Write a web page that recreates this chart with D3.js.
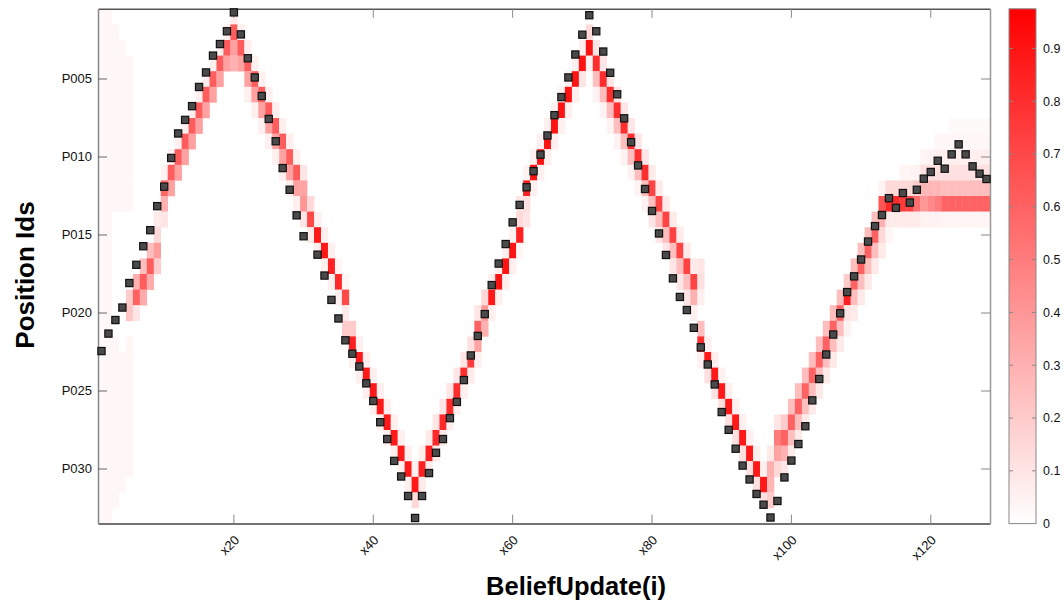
<!DOCTYPE html>
<html>
<head>
<meta charset="utf-8">
<script src="https://cdn.jsdelivr.net/npm/d3@7"></script>
<style>
  body { margin: 0; background: #fff; }
  svg { display: block; font-family: "Liberation Sans", Arial, sans-serif; }
</style>
</head>
<body>
<div id="chart"></div>
<script>
// step labels x1..x128, position ids P001..P033
var steps = d3.range(1, 129).map(function(i) { return "x" + i; });
var positions = d3.range(1, 34).map(function(i) { return "P" + d3.format("03d")(i); });

var xTickLabels = ["x20", "x40", "x60", "x80", "x100", "x120"];
var yTickLabels = ["P005", "P010", "P015", "P020", "P025", "P030"];
var colorTicks = [0, 0.1, 0.2, 0.3, 0.4, 0.5, 0.6, 0.7, 0.8, 0.9];
var colorMax = 0.975;

// true position per step (black squares), in position units (1 = P001)
var truePos = [
  22.44, 21.32, 20.45, 19.65, 18.08, 16.91, 15.72, 14.69, 13.15, 11.90,
  10.06, 8.49, 7.62, 6.74, 5.51, 4.58, 3.50, 2.76, 1.94, 0.73,
  2.14, 3.67, 4.90, 6.09, 7.56, 8.99, 10.71, 12.10, 13.74, 15.08,
  null, 16.26, 17.60, 19.16, 20.35, 21.75, 22.61, 23.43, 24.51, 25.64,
  27.00, 28.08, 29.48, 30.48, 31.73, 33.14, 31.73, 30.26, 28.96, 28.08,
  26.74, 25.70, 24.30, 22.72, 21.47, 20.07, 18.21, 16.83, 15.58, 14.19,
  13.07, 11.94, 10.91, 9.85, 8.62, 7.32, 6.16, 4.90, 3.43, 2.16,
  0.91, 1.94, 3.24, 4.60, 5.98, 7.52, 9.05, 10.54, 12.05, 13.46,
  14.90, 16.28, 17.78, 18.97, 19.81, 20.95, 22.20, 23.30, 24.58, 26.35,
  27.49, 28.70, 29.78, 30.67, 31.60, 32.29, 33.11, 32.05, 30.54, 29.46,
  28.40, 27.26, 25.60, 24.23, 22.66, 21.38, 20.02, 18.66, 17.65, 16.57,
  15.42, 14.43, 13.72, 12.64, 13.26, 12.31, 12.92, 12.10, 11.39, 10.96,
  10.24, 10.75, 9.83, 9.19, 9.83, 10.60, 11.07, 11.41
];

// early flat belief: [step, fromRow, toRow, value]
var prior = [
  [1, 1, 33, 0.025], [2, 1, 33, 0.03],
  [3, 2, 13, 0.03], [3, 22, 32, 0.03],
  [4, 3, 13, 0.03], [4, 23, 31, 0.03],
  [5, 4, 13, 0.03], [5, 23, 30, 0.03]
];

// belief per step: [firstRow, values for consecutive rows...]
var belief = [
  null, null, null, null,
  [19, .2, .22, 0, .04],
  [18, .3, .6, .1],
  [17, .25, .62, .32],
  [16, .25, .62, .32],
  [14, .08, .15, .38, .2],
  [11, .05, .58, .3, .1],
  [10, .06, .62, .36],
  [9, .06, .62, .36],
  [8, .06, .62, .36],
  [7, .06, .62, .36],
  [6, .06, .62, .36],
  [5, .06, .62, .36],
  [4, .06, .62, .36],
  [3, .06, .62, .36],
  [2, .06, .62, .36],
  [1, .08, .62, .36, .3],
  [2, .06, .62, .36],
  [3, .06, .62, .36, .06],
  [4, .06, .62, .36, .06],
  [5, .06, .62, .36, .06],
  [6, .06, .62, .36, .06],
  [7, .06, .62, .36, .06],
  [8, .06, .62, .36, .06],
  [9, .06, .62, .36, .06],
  [10, .06, .62, .36, .06],
  [11, .1, .35, .4, .1],
  [13, .15, .7, .08],
  [14, .06, .88, .06],
  [15, .06, .88, .06],
  [16, .06, .85, .06],
  [17, .04, .82, .06],
  [18, .04, .7, .08, .2],
  [21, .2, .85, .06],
  [22, .06, .88, .06],
  [23, .06, .88, .06],
  [24, .06, .88, .06],
  [25, .06, .88, .06],
  [26, .06, .88, .06],
  [27, .06, .88, .06],
  [28, .06, .88, .06],
  [29, .06, .88, .06],
  [30, .06, .88, .15],
  [29, .06, .85, .08],
  [28, .08, .85, .08],
  [27, .1, .82, .08],
  [26, .1, .82, .08],
  [25, .1, .82, .06],
  [24, .1, .8, .06],
  [23, .1, .8, .06],
  [22, .12, .75, .08],
  [20, .1, .6, .35, .06],
  [19, .15, .4, .3],
  [18, .06, .88, .06],
  [17, .06, .9, .06],
  [16, .06, .9, .06],
  [15, .06, .9, .06],
  [13, .1, .15, .85, .04],
  [11, .05, .85, .12, .1],
  [10, .06, .9, .06],
  [9, .06, .9, .06],
  [8, .06, .9, .06],
  [7, .06, .9, .06],
  [6, .06, .9, .06],
  [5, .06, .9, .06],
  [4, .06, .9, .06],
  [3, .06, .9, .1],
  [2, .15, .9, .06],
  [3, .1, .8, .25, .05],
  [4, .1, .8, .25, .05],
  [5, .1, .8, .25, .05],
  [6, .1, .8, .25, .05],
  [7, .1, .8, .25, .05],
  [8, .1, .8, .25, .05],
  [9, .1, .8, .25, .05],
  [10, .1, .8, .25, .05],
  [11, .08, .72, .25, .1],
  [12, .08, .72, .25, .1],
  [13, .08, .72, .25, .1],
  [14, .08, .72, .25, .1],
  [15, .08, .72, .25, .1],
  [16, .08, .72, .25, .1],
  [17, .08, .72, .3, .06],
  [17, .1, .12, .06, 0, .25, .8, .06],
  [22, .06, .88, .12],
  [23, .06, .88, .12],
  [24, .06, .88, .12],
  [25, .06, .88, .12],
  [26, .06, .88, .12],
  [27, .06, .88, .12],
  [28, .06, .88, .12],
  [29, .06, .88, .12],
  [30, .06, .88, .12],
  [29, .08, .3, .28, .2],
  [27, .1, .5, .35, .15],
  [27, .2, .6, .3, .1],
  [26, .25, .6, .25, .08],
  [25, .25, .6, .25, .08],
  [24, .25, .6, .25, .08],
  [23, .25, .6, .25, .08],
  [22, .25, .6, .25, .08],
  [21, .25, .6, .25, .08],
  [20, .25, .6, .25, .08],
  [19, .25, .6, .25, .08],
  [18, .2, .85, .1, .05],
  [17, .25, .6, .25, .08],
  [16, .25, .6, .25, .08],
  [15, .25, .6, .25, .08],
  [14, .25, .6, .25, .08],
  [12, .05, .65, .3, .15, .08],
  [12, .15, .82, .08, .04],
  [12, .15, .82, .08],
  [11, .04, .15, .75, .08],
  [11, .04, .15, .72, .08],
  [11, .05, .2, .55, .08],
  [10, .04, .12, .28, .4, .05],
  [10, .05, .12, .28, .45, .05],
  [9, .03, .06, .12, .28, .5, .05],
  [9, .03, .06, .12, .25, .6, .04],
  [8, .02, .03, .06, .12, .25, .6, .04],
  [8, .02, .03, .06, .12, .25, .6, .04],
  [8, .02, .03, .06, .12, .25, .6, .04],
  [8, .02, .03, .06, .12, .25, .6, .04],
  [8, .02, .03, .06, .12, .25, .6, .04],
  [8, .02, .03, .06, .12, .25, .6, .04]
];

var
  width = 1064,
  height = 608,
  plot = {left: 98, right: 990, top: 8.8, bottom: 523.6},
  bar = {left: 1009, right: 1036};

var svg = d3.select("#chart")
  .append("svg")
  .attr("width", width)
  .attr("height", height);

var x = d3.scaleBand().domain(steps).range([plot.left, plot.right]).padding(0);
var y = d3.scaleBand().domain(positions).range([plot.top, plot.bottom]).padding(0);
var yPos = d3.scaleLinear().domain([0.5, positions.length + 0.5]).range([plot.top, plot.bottom]);
var color = d3.scaleLinear().domain([0, colorMax]).range(["#ffffff", "#ff0000"]).clamp(true);

// build the cell list
var cells = [];
prior.forEach(function(p) {
  for (var r = p[1]; r <= p[2]; r++) cells.push({step: p[0], row: r, value: p[3]});
});
belief.forEach(function(b, i) {
  if (!b) return;
  for (var k = 1; k < b.length; k++) {
    if (b[k] > 0) cells.push({step: i + 1, row: b[0] + k - 1, value: b[k]});
  }
});

svg.append("rect")
  .attr("x", plot.left).attr("y", plot.top)
  .attr("width", plot.right - plot.left).attr("height", plot.bottom - plot.top)
  .attr("fill", "#fff");

svg.append("g").selectAll("rect")
  .data(cells)
  .enter().append("rect")
  .attr("x", function(d) { return x(steps[d.step - 1]); })
  .attr("y", function(d) { return y(positions[d.row - 1]); })
  .attr("width", x.bandwidth() + 0.3)
  .attr("height", y.bandwidth() + 0.3)
  .attr("fill", function(d) { return color(d.value); });

// axes (ticks pointing inward)
var xAxis = svg.append("g")
  .attr("transform", "translate(0," + plot.bottom + ")")
  .call(d3.axisBottom(x).tickValues(xTickLabels).tickSize(-9).tickSizeOuter(0).tickPadding(0));
xAxis.selectAll("text")
  .attr("font-size", 13)
  .attr("fill", "#111")
  .attr("text-anchor", "end")
  .attr("transform", "translate(3,14) rotate(-45)")
  .attr("dy", "0.35em")
  .attr("y", 0);
xAxis.selectAll(".tick line").attr("stroke", "#888");
xAxis.select(".domain").attr("stroke", "#444").attr("stroke-width", 1.5);

var xTop = svg.append("g")
  .attr("transform", "translate(0," + plot.top + ")")
  .call(d3.axisTop(x).tickValues(xTickLabels).tickSize(-9).tickSizeOuter(0).tickFormat(""));
xTop.selectAll(".tick line").attr("stroke", "#888");
xTop.select(".domain").attr("stroke", "#555").attr("stroke-width", 1.5);

var yAxis = svg.append("g")
  .attr("transform", "translate(" + plot.left + ",0)")
  .call(d3.axisLeft(y).tickValues(yTickLabels).tickSize(-9).tickSizeOuter(0).tickPadding(6));
yAxis.selectAll("text").attr("font-size", 13).attr("fill", "#111");
yAxis.selectAll(".tick line").attr("stroke", "#666");
yAxis.select(".domain").attr("stroke", "#888").attr("stroke-width", 1.5);

var yRight = svg.append("g")
  .attr("transform", "translate(" + plot.right + ",0)")
  .call(d3.axisRight(y).tickValues(yTickLabels).tickSize(-9).tickSizeOuter(0).tickFormat(""));
yRight.selectAll(".tick line").attr("stroke", "#888");
yRight.select(".domain").attr("stroke", "#999").attr("stroke-width", 1.5);

// true positions
svg.append("g").selectAll("rect")
  .data(truePos.map(function(v, i) { return {step: steps[i], pos: v}; })
    .filter(function(d) { return d.pos !== null; }))
  .enter().append("rect")
  .attr("x", function(d) { return x(d.step) + x.bandwidth() / 2 - 3.6; })
  .attr("y", function(d) { return yPos(d.pos) - 3.6; })
  .attr("width", 7.2)
  .attr("height", 7.2)
  .attr("fill", "#4a4a4a")
  .attr("stroke", "#111")
  .attr("stroke-width", 1.2);

// colour bar
var defs = svg.append("defs");
var grad = defs.append("linearGradient")
  .attr("id", "cbar").attr("x1", 0).attr("y1", 1).attr("x2", 0).attr("y2", 0);
grad.append("stop").attr("offset", "0%").attr("stop-color", color(0));
grad.append("stop").attr("offset", "100%").attr("stop-color", color(colorMax));

var yc = d3.scaleLinear().domain([0, colorMax]).range([plot.bottom, plot.top]);

svg.append("rect")
  .attr("x", bar.left).attr("y", plot.top)
  .attr("width", bar.right - bar.left).attr("height", plot.bottom - plot.top)
  .attr("fill", "url(#cbar)")
  .attr("stroke", "#888").attr("stroke-width", 1);

var cb = svg.append("g").selectAll("g")
  .data(colorTicks)
  .enter().append("g")
  .attr("transform", function(d) { return "translate(0," + yc(d) + ")"; });
cb.filter(function(d) { return d > 0; }).append("line")
  .attr("x1", bar.left).attr("x2", bar.left + 4).attr("stroke", "#888");
cb.filter(function(d) { return d > 0; }).append("line")
  .attr("x1", bar.right - 4).attr("x2", bar.right).attr("stroke", "#888");
cb.append("text")
  .attr("x", bar.right + 7)
  .attr("dy", "0.35em")
  .attr("font-size", 12.5)
  .attr("fill", "#111")
  .text(function(d) { return d; });

// titles
svg.append("text")
  .attr("transform", "translate(34,275) rotate(-90)")
  .attr("text-anchor", "middle")
  .attr("font-size", 26)
  .attr("font-weight", "bold")
  .text("Position Ids");

svg.append("text")
  .attr("x", 576)
  .attr("y", 595)
  .attr("text-anchor", "middle")
  .attr("font-size", 25.5)
  .attr("font-weight", "bold")
  .text("BeliefUpdate(i)");
</script>
</body>
</html>
